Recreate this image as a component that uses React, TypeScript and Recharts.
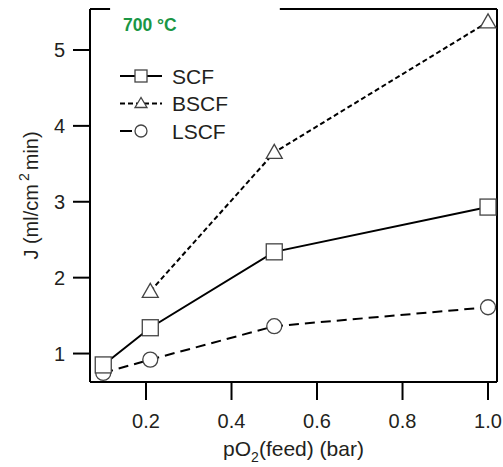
import React from "react";
import { LineChart, Line, XAxis, YAxis, ReferenceLine } from "recharts";

const pO2 = [0.1, 0.21, 0.5, 1.0];
const scf = [0.85, 1.34, 2.34, 2.93];
const bscf: (number | null)[] = [null, 1.82, 3.65, 5.37];
const lscf = [0.745, 0.92, 1.36, 1.61];
const xTicks = [0.2, 0.4, 0.6, 0.8, 1.0];
const yTicks = [1, 2, 3, 4, 5];
const seriesNames = ["SCF", "BSCF", "LSCF"];

const X_MIN = 0.069;
const X_MAX = 1.021;
const Y_MIN = 0.625;
const Y_MAX = 5.54;

const data = pO2.map((x, i) => ({ x, SCF: scf[i], BSCF: bscf[i], LSCF: lscf[i] }));

const TXT = "#231f20";
const MK = "#444";
const FONT = "'Liberation Sans', Arial, Helvetica, sans-serif";

const Square = (p: any) => {
  const { cx, cy, size = 16 } = p;
  if (cx == null || cy == null) return <g key={p.key} />;
  return (
    <rect key={p.key} x={cx - size / 2} y={cy - size / 2} width={size} height={size} fill="#fff" stroke={MK} strokeWidth={1.3} />
  );
};
const Triangle = (p: any) => {
  const { cx, cy, size = 16 } = p;
  if (cx == null || cy == null || p.value == null) return <g key={p.key} />;
  const h = size / 2;
  return (
    <polygon key={p.key} points={`${cx},${cy - h} ${cx - h},${cy + h - 2} ${cx + h},${cy + h - 2}`} fill="#fff" stroke={MK} strokeWidth={1.3} />
  );
};
const Circle = (p: any) => {
  const { cx, cy, size = 15 } = p;
  if (cx == null || cy == null) return <g key={p.key} />;
  return <circle key={p.key} cx={cx} cy={cy} r={size / 2} fill="#fff" stroke={MK} strokeWidth={1.3} />;
};

const LegendBox = () => {
  const rowH = 27.5;
  return (
    <svg width={160} height={90} style={{ position: "absolute", left: 120, top: 62, overflow: "visible" }}>
      <g transform={`translate(0, 14)`}>
        <line x1={0} x2={42} y1={0} y2={0} stroke="#000" strokeWidth={2} />
        <Square cx={21} cy={0} size={12} />
        <text x={52} y={7.5} fontSize={21} fill={TXT} fontFamily={FONT}>{seriesNames[0]}</text>
      </g>
      <g transform={`translate(0, ${14 + rowH})`}>
        <line x1={0} x2={42} y1={0} y2={0} stroke="#000" strokeWidth={2} strokeDasharray="5 3" />
        <Triangle cx={21} cy={0} size={12} value={1} />
        <text x={52} y={7.5} fontSize={21} fill={TXT} fontFamily={FONT}>{seriesNames[1]}</text>
      </g>
      <g transform={`translate(0, ${14 + rowH * 2})`}>
        <line x1={0} x2={12} y1={0} y2={0} stroke="#000" strokeWidth={2} />
        <Circle cx={21} cy={0} size={12} />
        <text x={52} y={7.5} fontSize={21} fill={TXT} fontFamily={FONT}>{seriesNames[2]}</text>
      </g>
    </svg>
  );
};

const XLabel = (props: any) => {
  const vb = props.viewBox || {};
  return (
    <text x={vb.x + vb.width / 2} y={vb.y + 74} textAnchor="middle" fontSize={21} fill={TXT} fontFamily={FONT}>
      pO<tspan dy={6} fontSize={14}>2</tspan>
      <tspan dy={-6}>(feed) (bar)</tspan>
    </text>
  );
};

const YLabel = (props: any) => {
  const vb = props.viewBox || {};
  const cx = 38;
  const cy = vb.y + vb.height / 2;
  return (
    <text x={cx} y={cy} transform={`rotate(-90, ${cx}, ${cy})`} textAnchor="middle" fontSize={20} fill={TXT} fontFamily={FONT}>
      J (ml/cm<tspan dy={-9} dx={3} fontSize={14}>2</tspan>
      <tspan dy={9} dx={3}>min)</tspan>
    </text>
  );
};

export default function App() {
  return (
    <div style={{ position: "absolute", left: 0, top: 0, width: 503, height: 467, background: "#fff", fontFamily: FONT }}>
      <LineChart width={503} height={467} data={data} margin={{ top: 9, right: 6, bottom: 25, left: 10 }}>
        <XAxis
          dataKey="x"
          type="number"
          domain={[X_MIN, X_MAX]}
          ticks={xTicks}
          allowDataOverflow
          tickFormatter={(v: number) => v.toFixed(1)}
          height={60}
          tickSize={18}
          tickMargin={14}
          axisLine={{ stroke: "#000", strokeWidth: 2 }}
          tickLine={{ stroke: "#000", strokeWidth: 2 }}
          tick={{ fill: TXT, fontSize: 20, fontFamily: FONT }}
          label={<XLabel />}
        />
        <YAxis
          type="number"
          domain={[Y_MIN, Y_MAX]}
          ticks={yTicks}
          allowDataOverflow
          width={80}
          tickSize={17}
          tickMargin={8}
          axisLine={{ stroke: "#000", strokeWidth: 2 }}
          tickLine={{ stroke: "#000", strokeWidth: 2 }}
          tick={{ fill: TXT, fontSize: 20, fontFamily: FONT }}
          label={<YLabel />}
        />
        <ReferenceLine x={X_MAX} stroke="#000" strokeWidth={2} ifOverflow="visible" />
        <ReferenceLine segment={[{ x: X_MIN, y: Y_MAX }, { x: 0.116, y: Y_MAX }]} stroke="#000" strokeWidth={2} ifOverflow="visible" />
        <ReferenceLine segment={[{ x: 0.513, y: Y_MAX }, { x: X_MAX, y: Y_MAX }]} stroke="#000" strokeWidth={2} ifOverflow="visible" />
        <Line dataKey="LSCF" stroke="#000" strokeWidth={2} strokeDasharray="10 6" dot={<Circle />} activeDot={false} isAnimationActive={false} />
        <Line dataKey="SCF" stroke="#000" strokeWidth={2} dot={<Square />} activeDot={false} isAnimationActive={false} />
        <Line dataKey="BSCF" stroke="#000" strokeWidth={2} strokeDasharray="5 3" dot={<Triangle />} activeDot={false} isAnimationActive={false} />
      </LineChart>
      <LegendBox />
      <div style={{ position: "absolute", left: 123, top: 14, fontSize: 17.5, lineHeight: "22px", fontWeight: "bold", color: "#1a9645", fontFamily: FONT }}>
        700 °C
      </div>
    </div>
  );
}
